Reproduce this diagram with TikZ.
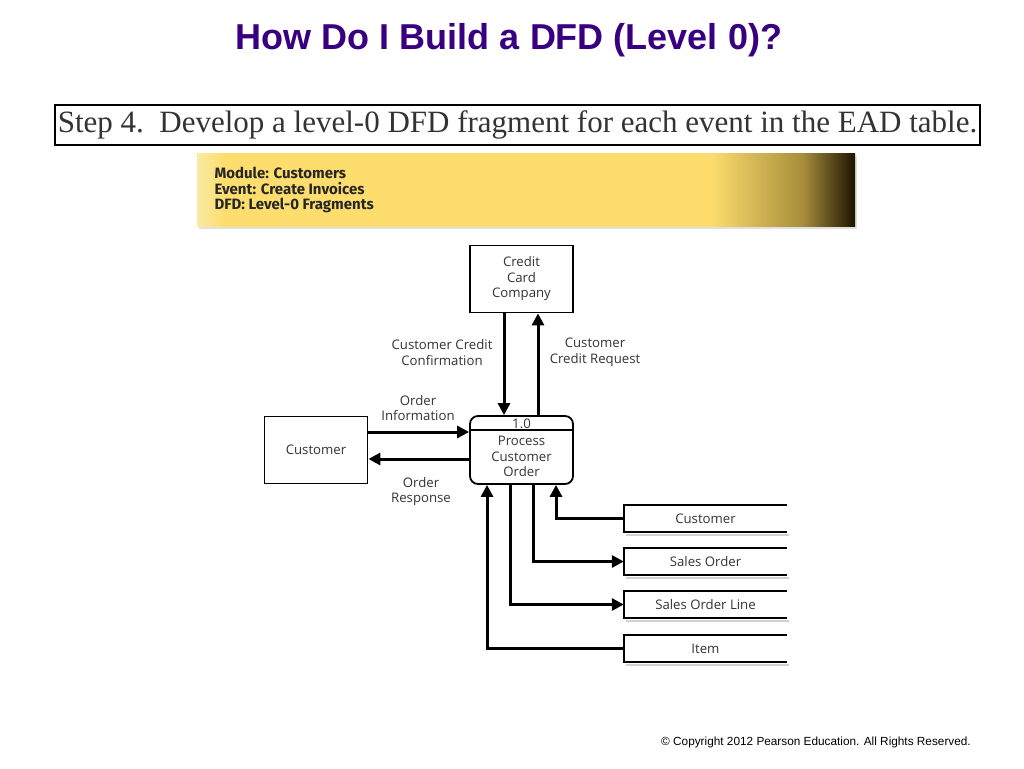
\documentclass[tikz,border=0pt]{standalone}
\usepackage{fontspec}
\setmainfont{Liberation Sans}
\newfontfamily\stepfont{Liberation Serif}
\newfontfamily\dfdfont{Open Sans}
\newfontfamily\bannerfont{Fira Sans}
\usetikzlibrary{arrows.meta}
\definecolor{titlepurple}{RGB}{56,0,128}
\definecolor{bannerlight}{RGB}{251,234,165}
\definecolor{banneryellow}{RGB}{252,221,110}
\definecolor{bannerolive}{RGB}{168,142,58}
\definecolor{bannerdark}{RGB}{28,20,0}
\pgfdeclarehorizontalshading{bannershade}{100bp}{color(0bp)=(bannerlight); color(25bp)=(bannerlight); color(27bp)=(banneryellow); color(64bp)=(banneryellow); color(71bp)=(bannerolive); color(75bp)=(bannerdark); color(100bp)=(bannerdark)}

\begin{document}
\begin{tikzpicture}[x=1pt,y=-1pt,
  dfdtext/.style={font=\dfdfont\fontsize{13.2}{15.5}\selectfont,text=black!80,align=center},
  entity/.style={dfdtext,draw,line width=1.8pt,minimum width=103pt,minimum height=67pt},
  proc/.style={draw,line width=1.8pt,rounded corners=8pt,minimum width=103pt,minimum height=68pt},
  store/.style={dfdtext,minimum width=163pt,minimum height=27pt},
  flow/.style={line width=3pt,-{Triangle[length=12pt,width=12pt]}}]
\useasboundingbox (0,0) rectangle (1024,768);

% heading
\node[text=titlepurple,font=\fontsize{36}{36}\selectfont\bfseries] (title) at (509,40) {How Do I Build a DFD (Level 0)?};
\node[draw,line width=2.2pt,minimum width=925pt,minimum height=40pt,inner sep=0pt,text=black!80] (step) at (517.5,125)
  {\stepfont\fontsize{31}{31}\selectfont Step 4.\ \ Develop a level-0 DFD fragment for each event in the EAD table.};

% banner
\fill[black!12] (199,156) rectangle (857,229);
\shade[shading=bannershade] (197,153) rectangle (855,226);
\node[anchor=west,align=left,font=\bannerfont\bfseries\fontsize{15}{15.5}\selectfont,text=black!85] (banner) at (211,190)
  {Module: Customers\\Event: Create Invoices\\DFD: Level-0 Fragments};

% entities and process
\node[entity] (ccc) at (521.5,279) {Credit\\Card\\Company};
\node[entity] (cust) at (316,450) {Customer};
\node[proc] (p1) at (521.5,450) {};
\draw[line width=1.8pt] ([yshift=-15pt]p1.north west) -- ([yshift=-15pt]p1.north east);
\node[dfdtext,anchor=south,inner sep=1pt] (p1id) at (521.5,430) {1.0};
\node[dfdtext] (p1txt) at (521.5,456.5) {Process\\Customer\\Order};

% data stores
\node[store] (dcust) at (705.5,518.5) {Customer};
\node[store] (dso) at (705.5,561.5) {Sales Order};
\node[store] (dsol) at (705.5,604.5) {Sales Order Line};
\node[store] (ditem) at (705.5,648.5) {Item};
\foreach \s in {dcust,dso,dsol,ditem}{
  \draw[black!18,line width=2pt] ([xshift=2pt,yshift=-2.5pt]\s.south west) -- ([xshift=2pt,yshift=-2.5pt]\s.south east);
  \draw[line width=1.8pt] (\s.north east) -- (\s.north west) -- (\s.south west) -- (\s.south east);
}

% flows
\draw[flow] ([xshift=-17.5pt]ccc.south) -- ([xshift=-17.5pt]ccc.south |- p1.north);
\draw[flow] ([xshift=16.5pt]ccc.south |- p1.north) -- ([xshift=16.5pt]ccc.south);
\draw[flow] ([yshift=18pt]cust.east) -- ([yshift=18pt]p1.west);
\draw[flow] ([yshift=-9pt]p1.west) -- ([yshift=-9pt]cust.east);
\draw[flow] (dcust.west) -| ([xshift=34.5pt]p1.south);
\draw[flow] ([xshift=11.5pt]p1.south) |- (dso.west);
\draw[flow] ([xshift=-11.5pt]p1.south) |- (dsol.west);
\draw[flow] (ditem.west) -| ([xshift=-34.5pt]p1.south);

% flow labels
\node[dfdtext] (lconf) at (442,352.5) {Customer Credit\\Confirmation};
\node[dfdtext] (lreq) at (595,352.5) {Customer\\Credit Request};
\node[dfdtext] (linfo) at (418,408) {Order\\Information};
\node[dfdtext] (lresp) at (421,491.5) {Order\\Response};

\node[font=\fontsize{11.8}{11.8}\selectfont] (copy) at (816,742) {\textcopyright\ Copyright 2012 Pearson Education. All Rights Reserved.};
\end{tikzpicture}
\end{document}
